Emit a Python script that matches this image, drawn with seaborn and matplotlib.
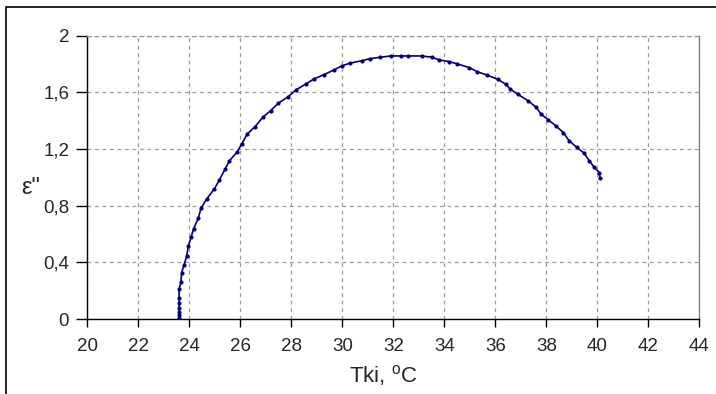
import pandas as pd
import matplotlib.pyplot as plt
import seaborn as sns
from matplotlib.patches import Rectangle

# Loss factor vs temperature
tki = [23.60, 23.60, 23.60, 23.60, 23.60, 23.60, 23.60, 23.60,
       23.67, 23.70, 23.79, 23.90, 23.96, 24.07, 24.17, 24.35, 24.46,
       24.68, 24.98, 25.18, 25.40, 25.57, 25.88, 26.05, 26.27, 26.58,
       26.88, 27.19, 27.49, 27.88, 28.18, 28.58, 28.89, 29.28, 29.67,
       29.98, 30.30, 30.78, 31.09, 31.48, 31.90, 32.29, 32.59, 33.11,
       33.51, 33.80, 34.20, 34.51, 34.98, 35.29, 35.69, 36.09, 36.41,
       36.59, 36.88, 37.29, 37.60, 37.79, 38.08, 38.38, 38.67, 38.89,
       39.19, 39.49, 39.69, 39.88, 40.08, 40.10]
eps2 = [0.00, 0.01, 0.028, 0.052, 0.076, 0.111, 0.146, 0.21,
        0.26, 0.327, 0.38, 0.445, 0.515, 0.577, 0.638, 0.711, 0.782,
        0.847, 0.918, 0.982, 1.057, 1.116, 1.18, 1.234, 1.306, 1.358,
        1.424, 1.471, 1.523, 1.57, 1.617, 1.66, 1.695, 1.725, 1.758,
        1.787, 1.806, 1.824, 1.838, 1.848, 1.857, 1.857, 1.857, 1.857,
        1.848, 1.829, 1.817, 1.801, 1.775, 1.746, 1.721, 1.693, 1.657,
        1.622, 1.587, 1.54, 1.495, 1.448, 1.405, 1.363, 1.316, 1.259,
        1.213, 1.17, 1.116, 1.071, 1.033, 0.994]

x_ticks = list(range(20, 45, 2))
y_ticks = [0, 0.4, 0.8, 1.2, 1.6, 2]
y_labels = ["0", "0,4", "0,8", "1,2", "1,6", "2"]

sns.set_style("white")
plt.rcParams['font.family'] = ['Liberation Sans', 'DejaVu Sans']
plt.rcParams['mathtext.fontset'] = 'custom'
plt.rcParams['mathtext.rm'] = 'Liberation Sans'

df = pd.DataFrame({'tki': tki, 'eps': eps2})

fig = plt.figure(figsize=(7.16, 3.94), dpi=100)
ax = fig.add_axes([87.3 / 716, 1 - 319 / 394, (699.3 - 87.3) / 716, (319 - 35.7) / 394])

sns.lineplot(data=df, x='tki', y='eps', sort=False, estimator=None, ax=ax,
             color='#000080', linewidth=1.2, marker='o', markersize=3,
             markeredgewidth=0, zorder=3)

ax.set_xlim(20, 44)
ax.set_ylim(0, 2)
ax.set_xticks(x_ticks)
ax.set_yticks(y_ticks)
ax.set_yticklabels(y_labels)
ax.tick_params(axis='both', labelsize=13.5, direction='out', width=1,
               color='black', bottom=True, left=True)
ax.tick_params(axis='x', length=6, pad=8)
ax.tick_params(axis='y', length=8, pad=5)
ax.grid(True, color='#999999', linestyle=(0, (3, 3)), linewidth=0.9)

for side in ['left', 'bottom']:
    ax.spines[side].set_color('black')
    ax.spines[side].set_linewidth(1)
ax.spines['right'].set_color('#808080')
ax.spines['right'].set_linewidth(1)
ax.spines['top'].set_color('#999999')
ax.spines['top'].set_linestyle((0, (3, 3)))
ax.spines['top'].set_linewidth(0.9)

ax.set_xlabel('Tki, $^{\\mathrm{o}}$C', fontsize=16)
ax.xaxis.set_label_coords(0.483, -0.201)
ax.xaxis.label.set_verticalalignment('center')
ax.set_ylabel('ε"', fontsize=17, rotation=0)
ax.yaxis.set_label_coords(-0.092, 0.462)
ax.yaxis.label.set_verticalalignment('center')
ax.yaxis.label.set_horizontalalignment('center')

# outer frame of the chart
fig.patches.append(Rectangle((6 / 716, -0.1), 1.2, 1 - 7 / 394 + 0.1,
                             transform=fig.transFigure, fill=False,
                             edgecolor='black', linewidth=1.2))

fig.savefig('out.png', dpi=100)
